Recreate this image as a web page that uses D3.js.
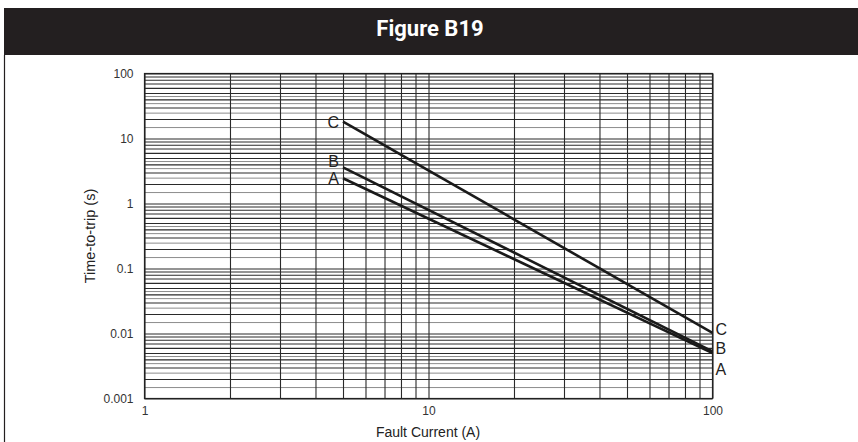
<!DOCTYPE html>
<html>
<head>
<meta charset="utf-8">
<script src="https://cdn.jsdelivr.net/npm/d3@7"></script>
<style>
  html, body { margin: 0; padding: 0; background: #fff; }
  svg { display: block; }
</style>
</head>
<body>
<svg id="chart" width="858" height="442"></svg>
<script>
// Trip curves: fault current (A) vs time-to-trip (s)
const curveNames = ["A", "B", "C"];
const currentA = [5, 100];
const tripA = [2.45, 0.0050];
const tripB = [3.6, 0.0053];
const tripC = [18.2, 0.0102];

const xTickValues = [1, 10, 100];
const xTickLabels = ["1", "10", "100"];
const yTickValues = [0.001, 0.01, 0.1, 1, 10, 100];
const yTickLabels = ["0.001", "0.01", "0.1", "1", "10", "100"];
const minorSteps = [2, 3, 4, 5, 6, 7, 8, 9];
const halfSteps = [1.5, 2.5, 3.5, 4.5];

const svg = d3.select("#chart");
const W = 858, H = 442;

// Title band and frame
svg.append("rect").attr("x", 4).attr("y", 8).attr("width", W - 4).attr("height", 47).attr("fill", "#231f20");
svg.append("line").attr("x1", 4.5).attr("x2", 4.5).attr("y1", 55).attr("y2", H).attr("stroke", "#231f20").attr("stroke-width", 1.2);
svg.append("text").attr("x", 430).attr("y", 36).attr("text-anchor", "middle")
  .attr("fill", "#fff").attr("font-family", "'Liberation Sans Narrow', 'Roboto', sans-serif")
  .attr("font-weight", "bold").attr("font-size", 22).text("Figure B19");

const plot = { left: 144.5, right: 712.5, top: 73.5, bottom: 398.5 };
const x = d3.scaleLog().domain([1, 100]).range([plot.left, plot.right]);
const y = d3.scaleLog().domain([0.001, 100]).range([plot.bottom, plot.top]);

const g = svg.append("g");

// Grid lines: gray half-steps under dark unit steps
const xMinor = [], yMinor = [], yHalf = [];
[1, 10].forEach(d => minorSteps.forEach(s => xMinor.push(d * s)));
[0.001, 0.01, 0.1, 1, 10].forEach(d => {
  minorSteps.forEach(s => yMinor.push(d * s));
  halfSteps.forEach(s => yHalf.push(d * s));
});

g.append("g").attr("class", "grid-y-half")
  .attr("transform", `translate(${plot.left},0)`)
  .call(d3.axisLeft(y).tickValues(yHalf).tickSize(-(plot.right - plot.left)).tickFormat(""))
  .call(s => s.select(".domain").remove())
  .call(s => s.selectAll("line").attr("stroke", "#8c8c8c").attr("stroke-width", 1));

g.append("g").attr("class", "grid-x")
  .attr("transform", `translate(0,${plot.bottom})`)
  .call(d3.axisBottom(x).tickValues(xMinor.concat(xTickValues)).tickSize(-(plot.bottom - plot.top)).tickFormat(""))
  .call(s => s.select(".domain").remove())
  .call(s => s.selectAll("line").attr("stroke", "#2a2a2a").attr("stroke-width", 1.1));

g.append("g").attr("class", "grid-y")
  .attr("transform", `translate(${plot.left},0)`)
  .call(d3.axisLeft(y).tickValues(yMinor.concat(yTickValues)).tickSize(-(plot.right - plot.left)).tickFormat(""))
  .call(s => s.select(".domain").remove())
  .call(s => s.selectAll("line").attr("stroke", "#2a2a2a").attr("stroke-width", 1.1));

// Frame
g.append("rect").attr("x", plot.left).attr("y", plot.top)
  .attr("width", plot.right - plot.left).attr("height", plot.bottom - plot.top)
  .attr("fill", "none").attr("stroke", "#222").attr("stroke-width", 1.2);

// Tick labels
const labelFont = "'Liberation Sans', Arial, sans-serif";
g.append("g").attr("transform", `translate(${plot.left},0)`)
  .call(d3.axisLeft(y).tickValues(yTickValues).tickSize(0).tickPadding(11)
    .tickFormat((d, i) => yTickLabels[i]))
  .call(s => s.select(".domain").remove())
  .call(s => s.selectAll("text").attr("font-family", labelFont).attr("font-size", 12).attr("fill", "#333"));

g.append("g").attr("transform", `translate(0,${plot.bottom})`)
  .call(d3.axisBottom(x).tickValues(xTickValues).tickSize(0).tickPadding(8)
    .tickFormat((d, i) => xTickLabels[i]))
  .call(s => s.select(".domain").remove())
  .call(s => s.selectAll("text").attr("font-family", labelFont).attr("font-size", 12).attr("fill", "#333"));

// Axis titles
svg.append("text").attr("x", 428).attr("y", 437).attr("text-anchor", "middle")
  .attr("font-family", labelFont).attr("font-size", 14).attr("fill", "#222").text("Fault Current (A)");
svg.append("text").attr("transform", "translate(95,236) rotate(-90)").attr("text-anchor", "middle")
  .attr("font-family", labelFont).attr("font-size", 14.5).attr("fill", "#222").text("Time-to-trip (s)");

// Curves
const series = [tripA, tripB, tripC].map((vals, i) => ({
  name: curveNames[i],
  pts: currentA.map((c, j) => [c, vals[j]])
}));
const line = d3.line().x(d => x(d[0])).y(d => y(d[1]));
g.selectAll("path.curve").data(series).join("path")
  .attr("class", "curve").attr("d", d => line(d.pts))
  .attr("fill", "none").attr("stroke", "#1a1a1a").attr("stroke-width", 2.6);

// Curve labels at both ends
const startOffset = { A: 1, B: -5, C: 1 };
const endOffset = { A: 16, B: -3, C: -4 };
g.selectAll("text.start").data(series).join("text")
  .attr("class", "start")
  .attr("x", d => x(d.pts[0][0]) - 4)
  .attr("y", d => y(d.pts[0][1]) + 5 + startOffset[d.name])
  .attr("text-anchor", "end").attr("font-family", labelFont).attr("font-size", 16).attr("fill", "#222")
  .text(d => d.name);
g.selectAll("text.end").data(series).join("text")
  .attr("class", "end")
  .attr("x", d => x(d.pts[1][0]) + 3)
  .attr("y", d => y(d.pts[1][1]) + 6 + endOffset[d.name])
  .attr("text-anchor", "start").attr("font-family", labelFont).attr("font-size", 16).attr("fill", "#222")
  .text(d => d.name);
</script>
</body>
</html>
